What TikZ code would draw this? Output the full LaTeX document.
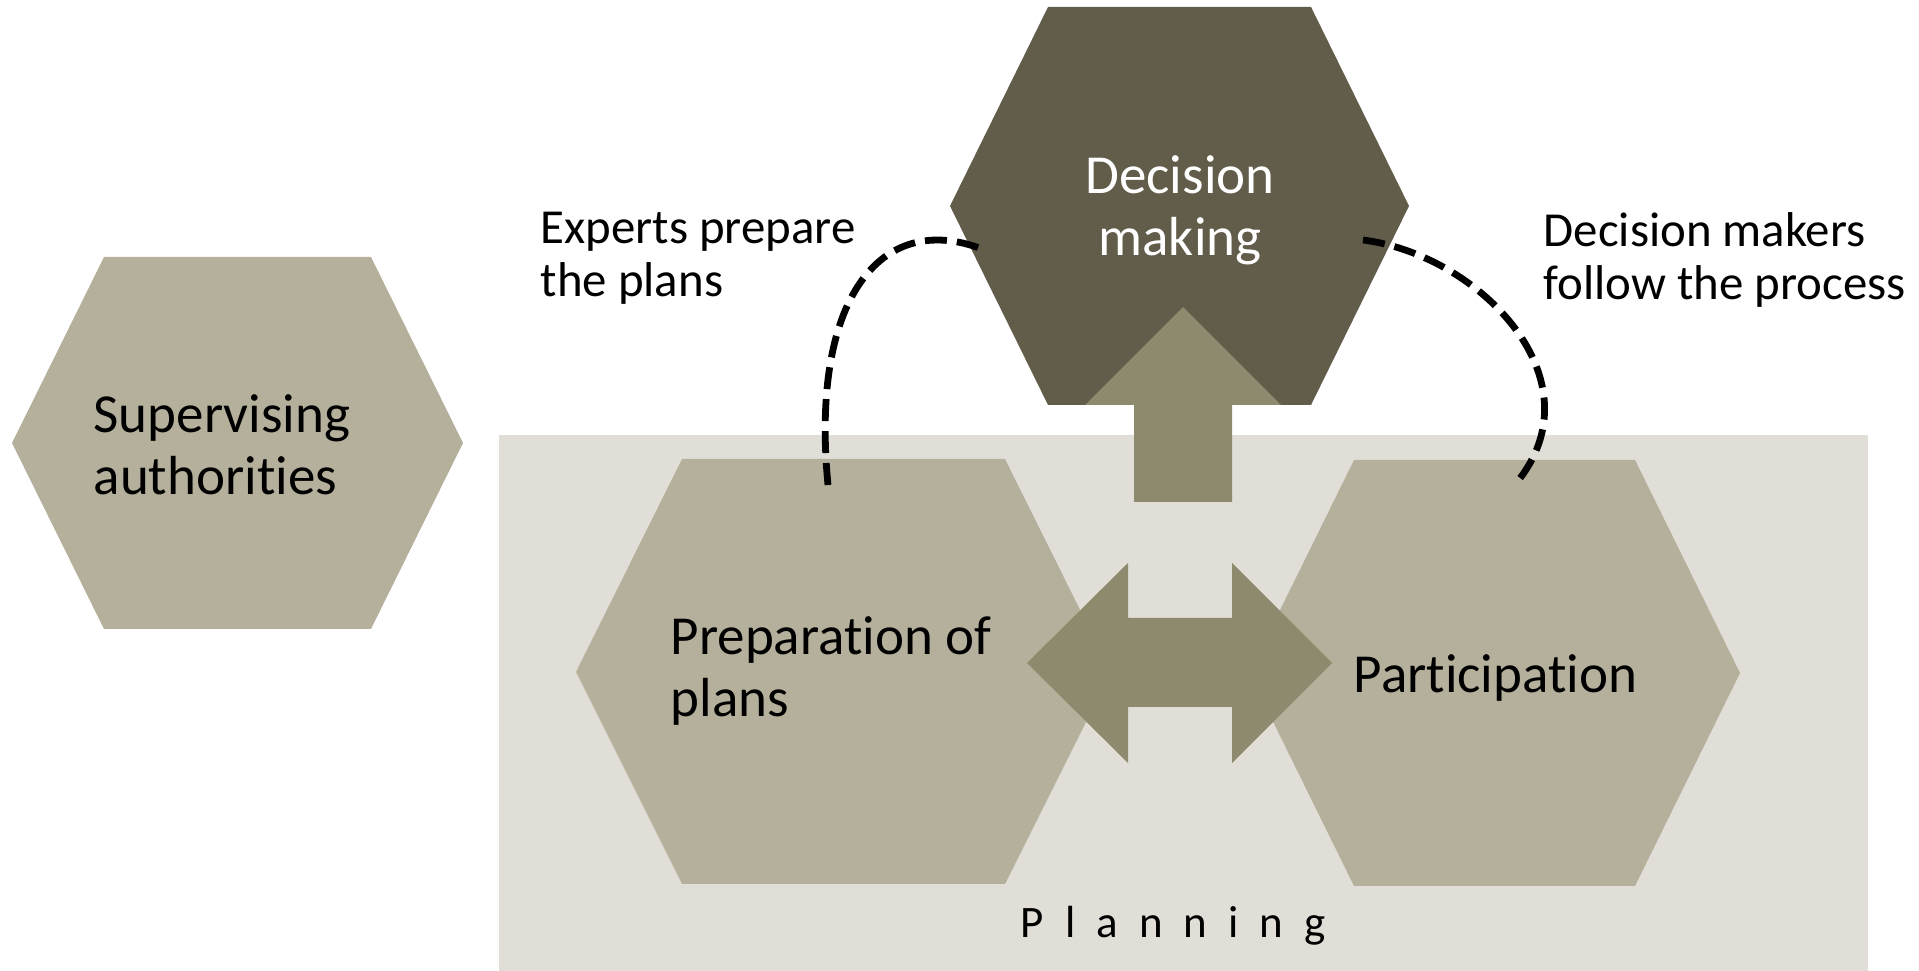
\documentclass[tikz,border=0pt]{standalone}
\usepackage{fontspec}
\setmainfont{Carlito}[Ligatures=NoCommon]
\definecolor{bgplan}{HTML}{E0DED7}
\definecolor{hexlt}{HTML}{B5B09C}
\definecolor{hexdk}{HTML}{625C4A}
\definecolor{arrowc}{HTML}{8E8A6E}
\begin{document}
\begin{tikzpicture}[x=0.01cm,y=-0.01cm,
  lighthex/.style={fill=hexlt,draw=none},
  darkhex/.style={fill=hexdk,draw=none},
  bigarrow/.style={fill=arrowc,draw=none},
  lbl/.style={inner sep=0pt,anchor=base west,align=left,font=\fontsize{15.65}{17.64}\selectfont},
  note/.style={inner sep=0pt,anchor=base west,align=left,font=\fontsize{13.9}{15.1}\selectfont},
  dashline/.style={line width=0.068cm,dash pattern=on 0.22cm off 0.1cm}]
\useasboundingbox (0,0) rectangle (1919,971);
% planning area
\fill[bgplan] (499,435) rectangle (1868,971);
% hexagons
\fill[lighthex] (12,443) -- (104,257) -- (371,257) -- (463,443) -- (371,629) -- (104,629) -- cycle;
\fill[darkhex] (950,206) -- (1048,7) -- (1311,7) -- (1409,206) -- (1311,405) -- (1048,405) -- cycle;
\fill[lighthex] (576,672) -- (682,459) -- (1005,459) -- (1111,672) -- (1005,884) -- (682,884) -- cycle;
\fill[lighthex] (1249,673) -- (1354,460) -- (1635,460) -- (1740,673) -- (1635,886) -- (1354,886) -- cycle;
% arrows
\fill[bigarrow] (1134,502) -- (1134,405) -- (1085,405) -- (1183,307) -- (1281,405) -- (1232,405) -- (1232,502) -- cycle;
\fill[bigarrow] (1027,663) -- (1128,563) -- (1128,618) -- (1232,618) -- (1232,563) -- (1332,663) -- (1232,763) -- (1232,707) -- (1128,707) -- (1128,763) -- cycle;
% labels (base anchor = baseline of the last line)
\node[lbl] (sup) at (93,495) {Supervising\\authorities};
\node[lbl,text=white,align=center,anchor=base] (dec) at (1180,256) {Decision\\making};
\node[note] (exp) at (540,297) {Experts prepare\\the plans};
\node[note] (dmk) at (1543,300) {Decision makers\\follow the process};
\node[lbl] (prep) at (670,717) {Preparation of\\plans};
\node[lbl] (part) at (1353,693) {Participation};
\node[inner sep=0pt,anchor=base west,font=\fontsize{12.8}{14}\selectfont] (plan) at (1020,937)
  {\makebox[3.05cm][s]{P\hfil l\hfil a\hfil n\hfil n\hfil i\hfil n\hfil g}};
% dashed connectors
\coordinate (lA) at (828,485);
\coordinate (lB) at (982,249);
\coordinate (rA) at (1363,240);
\coordinate (rB) at (1517,482);
\draw[dashline] (lA) .. controls (810,300) and (880,210) .. (lB);
\draw[dashline] (rA) .. controls (1480,255) and (1600,380) .. (rB);
\end{tikzpicture}
\end{document}
